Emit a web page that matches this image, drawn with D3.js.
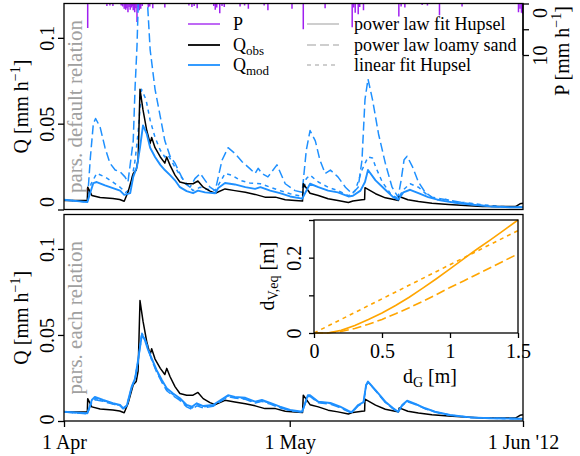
<!DOCTYPE html>
<html>
<head>
<meta charset="utf-8">
<script src="https://cdn.jsdelivr.net/npm/d3@7/dist/d3.min.js"></script>
<style>
  html, body { margin: 0; padding: 0; background: #fff; }
  svg { display: block; font-family: "Liberation Serif", "Times New Roman", serif; }
</style>
</head>
<body>
<svg id="chart" width="580" height="456"></svg>
<script>
// ---- data: time in days after 1 Apr 2012, discharge Q in mm/h ----
const qObsDay = [0, 3.1, 3.15, 3.7, 4.8, 6.5, 7.4, 8.0, 8.5, 9.2, 9.6, 9.85, 10.1, 10.5, 11.0, 11.45, 11.65, 12.1, 12.8, 13.4, 13.65, 14.1, 14.75, 15.4, 16.3, 17.15, 17.8, 18.5, 19.4, 20.1, 21.4, 22.7, 24.1, 25.4, 26.7, 28.1, 29.4, 30.7, 31.7, 31.8, 32.7, 33.8, 35.1, 36.4, 37.8, 38.4, 39.6, 39.95, 40.0, 41.4, 42.7, 44.0, 44.45, 44.55, 45.7, 47.1, 48.9, 51.1, 53.3, 55.6, 57.7, 60.0, 60.6, 61.0];
const qObs    = [0.0053, 0.0052, 0.0130, 0.0082, 0.0070, 0.0064, 0.0058, 0.0048, 0.0100, 0.0210, 0.0230, 0.0290, 0.0700, 0.0580, 0.0460, 0.0385, 0.0420, 0.0360, 0.0306, 0.0270, 0.0306, 0.0257, 0.0200, 0.0160, 0.0150, 0.0150, 0.0166, 0.0130, 0.0107, 0.0095, 0.0120, 0.0110, 0.0100, 0.0088, 0.0072, 0.0072, 0.0057, 0.0053, 0.0049, 0.0150, 0.0095, 0.0082, 0.0063, 0.0053, 0.0041, 0.0050, 0.0057, 0.0058, 0.0127, 0.0092, 0.0068, 0.0057, 0.0053, 0.0076, 0.0057, 0.0047, 0.0037, 0.0029, 0.0023, 0.0018, 0.0018, 0.0017, 0.0033, 0.0036];

// upper panel: default parameters for each storage relation
const topFitDay = [0, 3.1, 3.9, 4.35, 5.45, 6.5, 7.45, 8.0, 8.8, 9.2, 9.7, 10.1, 10.5, 11.0, 11.45, 12.1, 12.8, 13.4, 14.1, 14.75, 15.4, 16.3, 17.15, 17.8, 18.75, 20.1, 20.5, 21.4, 22.7, 24.1, 25.4, 26.1, 27.4, 28.7, 30.05, 31.65, 32.7, 33.8, 35.1, 36.4, 37.8, 38.4, 39.4, 40.0, 40.4, 41.4, 42.7, 43.75, 44.4, 45.1, 46.0, 47.1, 48.4, 50.0, 52.0, 54.0, 56.6, 59.3, 61.0];
const topFit    = [0.0057, 0.0043, 0.0154, 0.0160, 0.0140, 0.0125, 0.0110, 0.0085, 0.0095, 0.0190, 0.0250, 0.0360, 0.0490, 0.0440, 0.0360, 0.0306, 0.0260, 0.0230, 0.0200, 0.0170, 0.0130, 0.0107, 0.0095, 0.0110, 0.0100, 0.0095, 0.0125, 0.0154, 0.0146, 0.0130, 0.0120, 0.0130, 0.0110, 0.0095, 0.0076, 0.0063, 0.0150, 0.0130, 0.0110, 0.0100, 0.0076, 0.0080, 0.0110, 0.0160, 0.0230, 0.0170, 0.0115, 0.0072, 0.0057, 0.0100, 0.0115, 0.0095, 0.0072, 0.0053, 0.0039, 0.0029, 0.0018, 0.0013, 0.0013];

const topLoamyDay = [0, 3.1, 3.5, 3.9, 4.2, 4.8, 5.45, 6.1, 6.8, 7.45, 8.1, 8.5, 9.2, 9.45, 9.7, 9.9, 10.3, 10.9, 11.1, 11.45, 12.1, 12.8, 13.4, 14.1, 14.75, 15.4, 16.1, 16.75, 17.4, 18.1, 18.75, 19.4, 20.1, 21.0, 21.8, 22.7, 23.7, 24.7, 25.4, 25.8, 26.3, 27.1, 28.3, 29.4, 30.7, 31.65, 32.2, 32.7, 33.4, 34.0, 34.7, 35.4, 36.4, 37.4, 38.3, 39.1, 39.6, 40.0, 40.4, 41.0, 41.8, 42.7, 43.6, 44.4, 44.8, 45.2, 45.6, 46.3, 47.1, 48.0, 48.9, 50.0, 51.3, 52.7, 54.0, 56.6, 60.0, 61.0];
const topLoamy    = [0.0055, 0.0045, 0.0300, 0.0500, 0.0530, 0.0480, 0.0360, 0.0270, 0.0230, 0.0220, 0.0190, 0.0160, 0.0400, 0.0715, 0.0950, 0.1250, 0.1500, 0.1420, 0.1200, 0.0930, 0.0700, 0.0540, 0.0400, 0.0310, 0.0270, 0.0210, 0.0150, 0.0130, 0.0180, 0.0210, 0.0170, 0.0130, 0.0110, 0.0287, 0.0360, 0.0327, 0.0277, 0.0238, 0.0210, 0.0240, 0.0210, 0.0190, 0.0260, 0.0150, 0.0110, 0.0100, 0.0345, 0.0460, 0.0400, 0.0290, 0.0210, 0.0230, 0.0190, 0.0130, 0.0092, 0.0130, 0.0287, 0.0640, 0.0760, 0.0640, 0.0440, 0.0270, 0.0130, 0.0072, 0.0170, 0.0290, 0.0310, 0.0250, 0.0160, 0.0100, 0.0072, 0.0063, 0.0053, 0.0043, 0.0033, 0.0018, 0.0013, 0.0013];

const topLinDay = [0, 3.1, 3.6, 4.35, 5.45, 6.5, 7.45, 8.2, 8.8, 9.45, 9.85, 10.3, 10.9, 11.45, 12.1, 12.8, 13.4, 13.8, 14.75, 15.4, 16.3, 17.15, 18.1, 18.75, 20.1, 21.4, 22.3, 23.4, 24.7, 26.1, 27.4, 28.7, 30.05, 31.65, 32.2, 32.7, 33.8, 35.1, 36.4, 37.8, 38.7, 39.6, 40.4, 41.0, 41.4, 42.3, 43.4, 44.4, 45.1, 46.0, 47.1, 48.4, 49.6, 50.7, 52.0, 53.3, 55.3, 58.0, 60.6, 61.0];
const topLin    = [0.0056, 0.0044, 0.0150, 0.0210, 0.0190, 0.0160, 0.0130, 0.0100, 0.0120, 0.0287, 0.0450, 0.0700, 0.0640, 0.0520, 0.0420, 0.0345, 0.0306, 0.0320, 0.0247, 0.0200, 0.0150, 0.0110, 0.0130, 0.0120, 0.0110, 0.0210, 0.0200, 0.0170, 0.0154, 0.0150, 0.0130, 0.0110, 0.0092, 0.0076, 0.0180, 0.0200, 0.0160, 0.0130, 0.0110, 0.0080, 0.0110, 0.0230, 0.0306, 0.0300, 0.0250, 0.0160, 0.0092, 0.0063, 0.0115, 0.0150, 0.0130, 0.0080, 0.0057, 0.0060, 0.0043, 0.0040, 0.0029, 0.0018, 0.0013, 0.0013];

// lower panel: parameters calibrated for each relation
const botDay = [0, 3.1, 3.7, 4.1, 5.2, 6.5, 7.45, 7.85, 8.35, 9.0, 9.45, 9.85, 10.35, 10.75, 11.2, 11.65, 12.3, 13.0, 13.65, 14.5, 15.4, 16.3, 17.0, 17.65, 18.5, 19.8, 21.8, 22.7, 24.1, 25.4, 26.3, 27.4, 28.7, 30.05, 31.65, 32.4, 32.7, 33.8, 35.4, 36.7, 38.0, 38.3, 39.1, 39.8, 40.15, 40.4, 41.4, 42.7, 43.75, 44.4, 44.95, 45.6, 46.7, 48.0, 49.3, 51.3, 54.0, 56.6, 60.6, 61.0];
const botFit   = [0.0054, 0.0045, 0.0122, 0.0140, 0.0122, 0.0103, 0.0093, 0.0074, 0.0090, 0.0200, 0.0248, 0.0355, 0.0500, 0.0470, 0.0410, 0.0364, 0.0297, 0.0238, 0.0190, 0.0160, 0.0132, 0.0093, 0.0083, 0.0103, 0.0087, 0.0093, 0.0150, 0.0140, 0.0135, 0.0112, 0.0122, 0.0105, 0.0083, 0.0064, 0.0054, 0.0150, 0.0150, 0.0112, 0.0105, 0.0083, 0.0054, 0.0054, 0.0093, 0.0110, 0.0210, 0.0229, 0.0180, 0.0112, 0.0074, 0.0054, 0.0093, 0.0118, 0.0100, 0.0074, 0.0054, 0.0035, 0.0021, 0.0016, 0.0013, 0.0013];
const botLoamy = [0.0052, 0.0042, 0.0108, 0.0124, 0.0114, 0.0098, 0.0089, 0.0071, 0.0086, 0.0195, 0.0245, 0.0350, 0.0510, 0.0480, 0.0420, 0.0355, 0.0285, 0.0225, 0.0176, 0.0146, 0.0120, 0.0082, 0.0068, 0.0088, 0.0076, 0.0085, 0.0142, 0.0133, 0.0126, 0.0104, 0.0114, 0.0098, 0.0077, 0.0060, 0.0051, 0.0142, 0.0143, 0.0106, 0.0098, 0.0077, 0.0050, 0.0051, 0.0088, 0.0104, 0.0205, 0.0226, 0.0176, 0.0108, 0.0070, 0.0051, 0.0089, 0.0113, 0.0096, 0.0071, 0.0052, 0.0034, 0.0021, 0.0016, 0.0013, 0.0013];
const botLin   = [0.0053, 0.0043, 0.0115, 0.0132, 0.0118, 0.0100, 0.0091, 0.0072, 0.0088, 0.0198, 0.0247, 0.0352, 0.0505, 0.0476, 0.0416, 0.0360, 0.0291, 0.0231, 0.0183, 0.0153, 0.0126, 0.0088, 0.0075, 0.0096, 0.0082, 0.0089, 0.0146, 0.0137, 0.0131, 0.0108, 0.0118, 0.0102, 0.0080, 0.0062, 0.0053, 0.0146, 0.0147, 0.0109, 0.0102, 0.0080, 0.0052, 0.0053, 0.0091, 0.0107, 0.0208, 0.0228, 0.0178, 0.0110, 0.0072, 0.0053, 0.0091, 0.0116, 0.0098, 0.0073, 0.0053, 0.0035, 0.0021, 0.0016, 0.0013, 0.0013];

// precipitation P in mm/h
const pDay = [3.15, 5.7, 6.1, 6.5, 7.6, 7.8, 8.0, 8.2, 8.35, 8.5, 8.65, 8.8, 9.0, 9.1, 9.2, 9.4, 9.55, 9.7, 9.85, 10.0, 10.2, 10.4, 11.2, 11.4, 11.8, 13.4, 16.6, 17.0, 17.3, 17.7, 19.9, 20.1, 20.3, 20.7, 21.0, 21.3, 23.4, 24.0, 24.5, 26.6, 27.1, 30.3, 31.8, 34.7, 38.3, 38.5, 38.7, 39.1, 39.3, 39.8, 44.5, 44.8, 45.3, 47.6, 48.3, 49.9, 52.9, 60.4, 60.6, 60.8, 60.95];
const pVal = [4.75, 0.5, 0.4, 0.5, 0.4, 0.6, 1.0, 1.2, 0.9, 1.7, 0.7, 1.2, 0.8, 0.5, 1.3, 1.7, 0.9, 3.6, 0.7, 1.3, 1.0, 0.5, 0.8, 0.6, 0.9, 0.8, 0.4, 0.7, 0.5, 0.9, 0.5, 1.2, 0.8, 1.9, 0.5, 0.7, 0.6, 0.4, 1.0, 0.4, 1.3, 1.0, 5.0, 0.9, 4.6, 0.8, 1.8, 2.1, 0.7, 1.3, 2.5, 0.6, 0.8, 0.3, 0.4, 2.3, 0.6, 1.7, 1.0, 1.8, 2.0];

// inset: storage relation d_V,eq(d_G)
const dG      = [0, 0.1, 0.2, 0.3, 0.4, 0.5, 0.6, 0.7, 0.8, 0.9, 1.0, 1.1, 1.2, 1.3, 1.4, 1.5];
const dvFit   = [0, 0, 0.007, 0.020, 0.036, 0.053, 0.073, 0.095, 0.119, 0.144, 0.170, 0.197, 0.223, 0.248, 0.274, 0.300];
const dvLoamy = [0, 0, 0.004, 0.012, 0.023, 0.036, 0.051, 0.067, 0.084, 0.102, 0.121, 0.138, 0.156, 0.174, 0.192, 0.210];
const dGLin   = [0, 1.5];
const dvLin   = [0, 0.272];

const timeTicks = ["2012-04-01", "2012-05-01", "2012-06-01"];
const timeTickLabels = ["1 Apr", "1 May", "1 Jun '12"];
const qTicks = [0, 0.05, 0.1];
const pTicks = [0, 5, 10];
const pTickLabels = ["0", "", "10"];

// ---- styles ----
const BLUE = "#1e90ff", PURPLE = "#a020f0", ORANGE = "#ffa500", GREY = "#bebebe";
const LONGDASH = "9,4", SHORTDASH = "4,4";
const FONT = "Liberation Serif";

const svg = d3.select("#chart");
const START = Date.UTC(2012, 3, 1);
const toDate = d => new Date(START + d * 864e5);
const zip = (ts, vs) => ts.map((t, i) => ({t: toDate(t), v: vs[i]}));

const L = 64, R = 523;
const panels = [
  {top: 3.5, bottom: 209.5, label: "pars. default relation", zeroShift: -8},
  {top: 214.5, bottom: 421, label: "pars. each relation", zeroShift: -2}
];

const x = d3.scaleUtc().domain([toDate(0), toDate(61)]).range([L, R]);

panels.forEach((p, i) => {
  p.y = d3.scaleLinear().domain([0, 0.12]).range([p.bottom, p.top]);
  svg.append("clipPath").attr("id", "clip" + i)
    .append("rect").attr("x", L).attr("y", p.top).attr("width", R - L).attr("height", p.bottom - p.top);
});

function qLine(g, panel, data, color, dash, width) {
  const line = d3.line().x(d => x(d.t)).y(d => panel.y(d.v));
  g.append("path").datum(data)
    .attr("d", line).attr("fill", "none")
    .attr("stroke", color).attr("stroke-width", width)
    .attr("stroke-linejoin", "round")
    .attr("stroke-dasharray", dash || null);
}

// ---- panel contents ----
panels.forEach((p, i) => {
  const g = svg.append("g").attr("clip-path", `url(#clip${i})`);
  if (i === 0) {
    // precipitation hanging from the top
    const yP = d3.scaleLinear().domain([0, 10]).range([p.top, 55]);
    g.selectAll("line.p").data(pDay.map((d, k) => ({t: toDate(d), v: pVal[k]})))
      .join("line").attr("class", "p")
      .attr("x1", d => x(d.t)).attr("x2", d => x(d.t))
      .attr("y1", yP(0)).attr("y2", d => yP(d.v))
      .attr("stroke", PURPLE).attr("stroke-width", 1.5);
    qLine(g, p, zip(topLoamyDay, topLoamy), BLUE, LONGDASH, 1.5);
    qLine(g, p, zip(topLinDay, topLin), BLUE, SHORTDASH, 1.5);
    qLine(g, p, zip(qObsDay, qObs), "#000", null, 1.5);
    qLine(g, p, zip(topFitDay, topFit), BLUE, null, 1.9);
  } else {
    qLine(g, p, zip(qObsDay, qObs), "#000", null, 1.5);
    qLine(g, p, zip(botDay, botLoamy), BLUE, LONGDASH, 1.5);
    qLine(g, p, zip(botDay, botLin), BLUE, SHORTDASH, 1.5);
    qLine(g, p, zip(botDay, botFit), BLUE, null, 1.9);
  }

  // frame
  svg.append("rect").attr("x", L).attr("y", p.top).attr("width", R - L).attr("height", p.bottom - p.top)
    .attr("fill", "none").attr("stroke", "#000").attr("stroke-width", 1.3);

  // Q axis
  const ax = svg.append("g").attr("transform", `translate(${L},0)`)
    .call(d3.axisLeft(p.y).tickValues(qTicks).tickFormat(d3.format("~g")).tickSize(6).tickSizeOuter(0));
  ax.select(".domain").remove();
  ax.selectAll("line").attr("stroke-width", 1.3);
  ax.selectAll("text").attr("x", null).attr("dy", null)
    .attr("transform", d => `translate(-10,${d === 0 ? p.zeroShift : 0}) rotate(-90)`)
    .attr("text-anchor", "middle").attr("font-size", 20).attr("font-family", FONT).attr("fill", "#000");

  // Q axis title
  const cy = (p.top + p.bottom) / 2;
  const t = svg.append("text").attr("transform", `translate(28,${cy}) rotate(-90)`)
    .attr("text-anchor", "middle").attr("font-size", 20);
  t.append("tspan").text("Q [mm h");
  t.append("tspan").attr("font-size", 14).attr("dy", -8).text("\u22121");
  t.append("tspan").attr("dy", 8).text("]");

  // panel annotation
  svg.append("text").attr("transform", `translate(82,${cy}) rotate(-90)`)
    .attr("text-anchor", "middle").attr("font-size", 21).attr("fill", "#a0a0a0").text(p.label);
});

// ---- time axis ----
const tx = svg.append("g").attr("transform", `translate(0,${panels[1].bottom})`)
  .call(d3.axisBottom(x).tickValues(timeTicks.map(s => new Date(s + "T00:00:00Z")))
    .tickFormat((d, i) => timeTickLabels[i]).tickSize(6).tickSizeOuter(0));
tx.select(".domain").remove();
tx.selectAll("line").attr("stroke-width", 1.3);
tx.selectAll("text").attr("font-size", 20).attr("font-family", FONT).attr("dy", "0.95em").attr("fill", "#000");

// ---- precipitation axis (right, inverted) ----
const yP = d3.scaleLinear().domain([0, 10]).range([panels[0].top, 55]);
const pax = svg.append("g").attr("transform", `translate(${R},0)`)
  .call(d3.axisRight(yP).tickValues(pTicks).tickFormat((d, i) => pTickLabels[i]).tickSize(6).tickSizeOuter(0));
pax.select(".domain").attr("d", `M0,${yP(0)}V${yP(10)}`).attr("stroke-width", 1.3);
pax.selectAll("line").attr("stroke-width", 1.3);
pax.selectAll("text").attr("x", null).attr("dy", null)
  .attr("transform", d => `translate(24,${d === 0 ? 9 : 0}) rotate(-90)`)
  .attr("text-anchor", "middle").attr("font-size", 20).attr("font-family", FONT).attr("fill", "#000");
const pt = svg.append("text").attr("transform", `translate(569,51) rotate(-90)`)
  .attr("text-anchor", "middle").attr("font-size", 20);
pt.append("tspan").text("P [mm h");
pt.append("tspan").attr("font-size", 14).attr("dy", -8).text("\u22121");
pt.append("tspan").attr("dy", 8).text("]");

// ---- legend ----
const legLeft = [
  {name: "P", color: PURPLE, op: 0.75},
  {name: "Q", sub: "obs", color: "#000", op: 1},
  {name: "Q", sub: "mod", color: BLUE, op: 1}
];
const legRight = [
  {name: "power law fit Hupsel", dash: null},
  {name: "power law loamy sand", dash: LONGDASH},
  {name: "linear fit Hupsel", dash: SHORTDASH}
];
const rowY = [24, 45, 65];
legLeft.forEach((d, i) => {
  svg.append("line").attr("x1", 188).attr("x2", 220).attr("y1", rowY[i]).attr("y2", rowY[i])
    .attr("stroke", d.color).attr("stroke-width", 1.8).attr("stroke-opacity", d.op);
  const t = svg.append("text").attr("x", 233).attr("y", rowY[i] + 6).attr("font-size", 18);
  t.append("tspan").text(d.name);
  if (d.sub) t.append("tspan").attr("font-size", 13).attr("dy", 4).text(d.sub);
});
legRight.forEach((d, i) => {
  svg.append("line").attr("x1", 307).attr("x2", 339).attr("y1", rowY[i]).attr("y2", rowY[i])
    .attr("stroke", GREY).attr("stroke-width", 1.5).attr("stroke-dasharray", d.dash);
  svg.append("text").attr("x", 354).attr("y", rowY[i] + 6).attr("font-size", 18).text(d.name);
});

// ---- inset: storage relation ----
const ix = d3.scaleLinear().domain([0, 1.5]).range([314, 518]);
const iy = d3.scaleLinear().domain([0, 0.3]).range([333, 220]);
svg.append("rect").attr("x", 314).attr("y", 220).attr("width", 204).attr("height", 113)
  .attr("fill", "#fff").attr("stroke", "none");
const iline = d3.line().x(d => ix(d[0])).y(d => iy(d[1]));
[[dG, dvLoamy, LONGDASH], [dGLin, dvLin, SHORTDASH], [dG, dvFit, null]].forEach(([xs, ys, dash]) => {
  svg.append("path").datum(xs.map((v, k) => [v, ys[k]]))
    .attr("d", iline).attr("fill", "none").attr("stroke", ORANGE)
    .attr("stroke-width", 1.6).attr("stroke-dasharray", dash);
});
svg.append("rect").attr("x", 314).attr("y", 220).attr("width", 204).attr("height", 113)
  .attr("fill", "none").attr("stroke", "#000").attr("stroke-width", 1.3);
const ixa = svg.append("g").attr("transform", "translate(0,333)")
  .call(d3.axisBottom(ix).tickValues([0, 0.5, 1, 1.5]).tickFormat(d3.format("~g")).tickSize(5).tickSizeOuter(0));
ixa.select(".domain").remove();
ixa.selectAll("line").attr("stroke-width", 1.3);
ixa.selectAll("text").attr("font-size", 20).attr("font-family", FONT).attr("dy", "0.85em").attr("fill", "#000");
const iya = svg.append("g").attr("transform", "translate(314,0)")
  .call(d3.axisLeft(iy).tickValues([0, 0.1, 0.2, 0.3]).tickFormat(d => (d === 0 || d === 0.2) ? d3.format("~g")(d) : "").tickSize(5).tickSizeOuter(0));
iya.select(".domain").remove();
iya.selectAll("line").attr("stroke-width", 1.3);
iya.selectAll("text").attr("x", null).attr("dy", null)
  .attr("transform", "translate(-13,0) rotate(-90)")
  .attr("text-anchor", "middle").attr("font-size", 20).attr("font-family", FONT).attr("fill", "#000");
const xl = svg.append("text").attr("x", 430).attr("y", 383).attr("text-anchor", "middle").attr("font-size", 20);
xl.append("tspan").text("d");
xl.append("tspan").attr("font-size", 14).attr("dy", 4).text("G");
xl.append("tspan").attr("dy", -4).text(" [m]");
const yl = svg.append("text").attr("transform", "translate(274,276) rotate(-90)").attr("text-anchor", "middle").attr("font-size", 20);
yl.append("tspan").text("d");
yl.append("tspan").attr("font-size", 14).attr("dy", 4).text("V,eq");
yl.append("tspan").attr("dy", -4).text(" [m]");
</script>
</body>
</html>
